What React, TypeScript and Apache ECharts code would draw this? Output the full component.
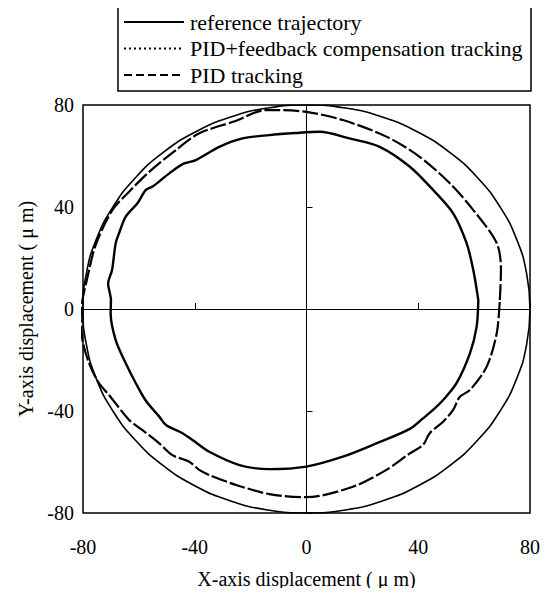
import React, { useEffect, useRef } from "react";
import * as echarts from "echarts";

// Tick values shared by both axes
const tickMin = -80;
const tickMax = 80;
const tickStep = 40;

const legendNames = [
  "reference trajectory",
  "PID+feedback compensation tracking",
  "PID tracking",
];

// Reference trajectory: circle of radius 80 µm, sampled every 10°
const refX = [80, 78.8, 75.2, 69.3, 61.3, 51.4, 40, 27.4, 13.9, 0, -13.9, -27.4, -40, -51.4, -61.3, -69.3, -75.2, -78.8,
  -80, -78.8, -75.2, -69.3, -61.3, -51.4, -40, -27.4, -13.9, 0, 13.9, 27.4, 40, 51.4, 61.3, 69.3, 75.2, 78.8, 80];
const refY = [0, 13.9, 27.4, 40, 51.4, 61.3, 69.3, 75.2, 78.8, 80, 78.8, 75.2, 69.3, 61.3, 51.4, 40, 27.4, 13.9,
  0, -13.9, -27.4, -40, -51.4, -61.3, -69.3, -75.2, -78.8, -80, -78.8, -75.2, -69.3, -61.3, -51.4, -40, -27.4, -13.9, 0];

// PID+feedback compensation tracking (inner curve)
const fbX = [61.5, 59.7, 57.3, 52.5, 45.3, 37, 26.2, 15.4, 4.7, -4, -13.3, -22.9, -31.2, -39.6, -44, -49.1, -55.1, -57.5,
  -60.5, -64.7, -67, -68.3, -69.6, -71, -70, -70.1, -68.3, -64.7, -61.1, -57.5, -52.7, -50.3, -44.4, -40.8, -34.8,
  -24, -13.3, -0.1, 13, 25, 37, 41.7, 45.3, 48.9, 53.7, 58.5, 60.9, 61.5];
const fbY = [3.5, 15.3, 25.8, 37.5, 46.7, 55.8, 63.6, 66.9, 69.5, 69, 68.2, 66.9, 63.6, 58.4, 57, 53.2, 48, 46.7,
  41.5, 36.2, 30, 25.8, 15.3, 10, 3.5, -1.7, -12.2, -21.3, -29.1, -36, -42.2, -45.5, -48.7, -51.4, -56,
  -61.2, -62.8, -61.8, -57.9, -52.7, -47, -42.9, -39.6, -35.7, -29.1, -17.4, -6.9, 3.5];

// PID tracking (middle curve)
const pidX = [69.2, 69.6, 68.1, 59.7, 51.3, 40.5, 28.6, 13, 0, -10.9, -14.5, -26, -38.4, -46.7, -56.3, -63.5, -69.5,
  -75.5, -78.5, -80.2, -80.8, -80.2, -77.8, -74.3, -70.7, -63.5, -58.7, -52.7, -48, -42, -38.4, -34.8, -25.2,
  -13.3, -0.1, 16.6, 28.6, 37, 41.7, 44.1, 48.9, 52.5, 54.9, 58.5, 64.5, 68.1, 69.2];
const pidY = [3.5, 15.3, 25.8, 38.8, 49.3, 59.7, 67.6, 74.1, 77.3, 78, 78, 73.5, 68.9, 62.4, 53.8, 46, 38.8,
  25, 12, 3.5, -3, -12.2, -21.3, -29.1, -33.7, -43.5, -47.5, -52.7, -57.3, -59.9, -63.1, -65.1, -69,
  -72.6, -73.8, -69.7, -63.1, -56.6, -53.3, -48.7, -44.2, -39.6, -34.4, -31.8, -22.6, -9.5, 3.5];

const pairs = (xs: number[], ys: number[]) => xs.map((x, i) => [x, ys[i]]);

const FONT = "Times New Roman, serif";

export default function App() {
  const ref = useRef<HTMLDivElement>(null);
  useEffect(() => {
    if (!ref.current) return;
    const chart = echarts.init(ref.current, undefined, { renderer: "svg" });
    const axisCommon = {
      type: "value" as const,
      min: tickMin,
      max: tickMax,
      interval: tickStep,
      splitLine: { show: false },
    };
    const legendTop = 5;
    const rowH = 26.5;
    const legendDash = [null, [2, 3], [8, 4]];
    const legendGraphics: any[] = [
      {
        type: "rect",
        shape: { x: 118, y: legendTop, width: 413, height: 86 },
        style: { fill: "transparent", stroke: "#000", lineWidth: 1.5 },
        silent: true,
      },
    ];
    legendNames.forEach((name, i) => {
      const cy = legendTop + 17 + i * rowH;
      legendGraphics.push({
        type: "line",
        shape: { x1: 124, y1: cy, x2: 184, y2: cy },
        style: {
          stroke: "#000",
          lineWidth: 2,
          lineDash: legendDash[i] || undefined,
        },
        silent: true,
      });
      legendGraphics.push({
        type: "text",
        x: 190,
        y: cy,
        style: {
          text: name,
          fontFamily: FONT,
          fontSize: 22,
          fill: "#000",
          verticalAlign: "middle",
          align: "left",
        },
        silent: true,
      });
    });
    chart.setOption({
      animation: false,
      backgroundColor: "#fff",
      textStyle: { fontFamily: FONT, color: "#000" },
      grid: {
        left: 83,
        right: 22,
        top: 105,
        bottom: 83,
        show: true,
        borderColor: "#000",
        borderWidth: 1.5,
        backgroundColor: "transparent",
      },
      graphic: legendGraphics,
      xAxis: [
        {
          ...axisCommon,
          position: "bottom",
          axisLine: { onZero: true, lineStyle: { color: "#000", width: 1 } },
          axisTick: { show: true, inside: true, length: 6, lineStyle: { color: "#000" } },
          axisLabel: { show: false },
        },
        {
          ...axisCommon,
          position: "bottom",
          axisLine: { show: false, onZero: false },
          axisTick: { show: false },
          axisLabel: { show: true, margin: 24, fontSize: 20, fontFamily: FONT, color: "#000" },
          name: "X-axis displacement ( \u03bc m)",
          nameLocation: "middle",
          nameGap: 56,
          nameTextStyle: { fontSize: 20, fontFamily: FONT, color: "#000" },
        },
      ],
      yAxis: [
        {
          ...axisCommon,
          position: "left",
          axisLine: { onZero: true, lineStyle: { color: "#000", width: 1 } },
          axisTick: { show: true, inside: true, length: 6, lineStyle: { color: "#000" } },
          axisLabel: { show: false },
        },
        {
          ...axisCommon,
          position: "left",
          axisLine: { show: false, onZero: false },
          axisTick: { show: false },
          axisLabel: { show: true, margin: 9, fontSize: 20, fontFamily: FONT, color: "#000" },
          name: "Y-axis displacement ( \u03bc m)",
          nameLocation: "middle",
          nameGap: 33,
          nameTextStyle: { fontSize: 20, fontFamily: FONT, color: "#000" },
        },
      ],
      series: [
        {
          name: legendNames[0],
          type: "line",
          data: pairs(refX, refY),
          symbol: "none",
          smooth: true,
          lineStyle: { color: "#000", width: 1.6, type: "solid" },
        },
        {
          name: legendNames[1],
          type: "line",
          data: pairs(fbX, fbY),
          symbol: "none",
          smooth: 0.3,
          lineStyle: { color: "#000", width: 2.4, type: "solid" },
        },
        {
          name: legendNames[2],
          type: "line",
          data: pairs(pidX, pidY),
          symbol: "none",
          smooth: 0.3,
          lineStyle: { color: "#000", width: 2.2, type: [16, 3] },
        },
      ],
    });
    return () => chart.dispose();
  }, []);
  return <div ref={ref} style={{ width: 552, height: 596, margin: -8 }} />;
}
